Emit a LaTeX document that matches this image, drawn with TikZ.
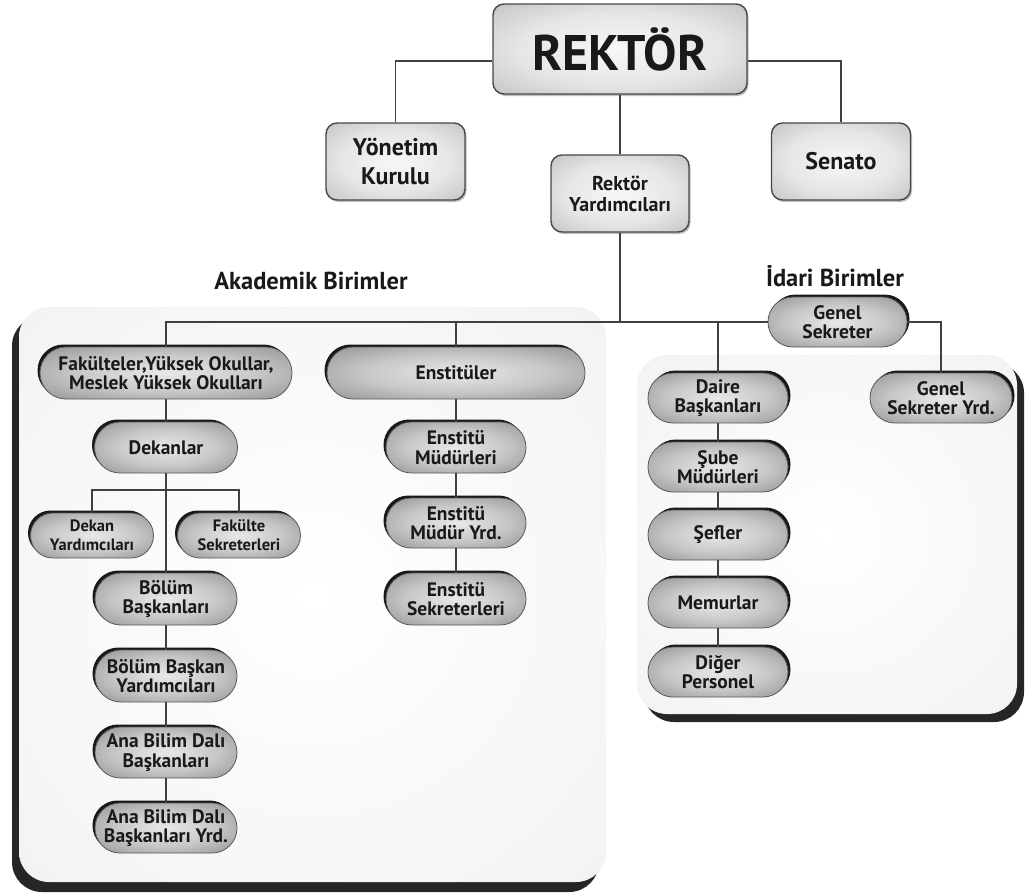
\documentclass[tikz,border=0pt]{standalone}
\usepackage{fontspec}
\setmainfont{PT Sans}
\usetikzlibrary{shapes.misc,shadows}
\pgfdeclareradialshading{pillshade}{\pgfpoint{0bp}{0bp}}{color(0bp)=(black!9); color(18bp)=(black!22); color(40bp)=(black!47); color(55bp)=(black!57); color(80bp)=(black!57)}
\pgfdeclareradialshading{boxshade}{\pgfpoint{0bp}{0bp}}{color(0bp)=(black!3); color(20bp)=(black!10); color(42bp)=(black!28); color(58bp)=(black!36); color(80bp)=(black!36)}
\pgfdeclareradialshading{panelshade}{\pgfpoint{0bp}{0bp}}{color(0bp)=(white); color(30bp)=(black!4); color(60bp)=(black!9); color(80bp)=(black!10)}
\begin{document}
\begin{tikzpicture}[x=1pt,y=-1pt,
  conn/.style={draw=black!75, line width=1.2pt},
  topbox/.style={rectangle, rounded corners=11pt, draw=black!72, line width=1.4pt, shade, shading=boxshade, text=black!90, align=center, inner sep=0pt,
     drop shadow={shadow xshift=1.5pt, shadow yshift=-2pt, opacity=0.25, fill=black}},
  pill/.style={rounded rectangle, draw=black!65, line width=0.8pt, shade, shading=pillshade, text=black!90, align=center, inner sep=0pt,
     font=\bfseries\fontsize{19.5}{19.5}\selectfont},
  smallpill/.style={pill, font=\bfseries\fontsize{16.5}{19}\selectfont},
  shl/.style={drop shadow={shadow xshift=-2.5pt, shadow yshift=2.5pt, opacity=0.9, fill=black}},
  shr/.style={drop shadow={shadow xshift=2.5pt, shadow yshift=2.5pt, opacity=0.9, fill=black}},
  lbl/.style={font=\bfseries\fontsize{24.5}{26}\selectfont, text=black!90, inner sep=0pt},
  panelshadow/.style={fill=black!85, rounded corners=30pt},
  panel/.style={shade, shading=panelshade, rounded corners=30pt}
]
\useasboundingbox[fill=white] (0,0) rectangle (1025,894);

% panels
\fill[panelshadow] (12,316) rectangle (599,892);
\path[panel] (19,307) rectangle (606,882);
\fill[panelshadow] (644,363) rectangle (1024,722);
\path[panel] (637,355) rectangle (1017,714);

% top level
\node[topbox, minimum width=254pt, minimum height=90pt, font=\bfseries\fontsize{50}{52}\selectfont] (rektor) at (620,49) {REKTÖR};
\node[topbox, minimum width=139pt, minimum height=77pt, font=\bfseries\fontsize{24}{29}\selectfont] (yonetim) at (395.5,161.5) {Yönetim\\Kurulu};
\node[topbox, minimum width=139pt, minimum height=77pt, font=\bfseries\fontsize{24}{29}\selectfont] (senato) at (841,161.5) {Senato};
\node[topbox, minimum width=138pt, minimum height=77pt, font=\bfseries\fontsize{20}{21}\selectfont] (ryrd) at (620,193.5) {Rektör\\Yardımcıları};

% labels
\node[lbl] (akad) at (311,281) {Akademik Birimler};
\node[lbl] (idari) at (835,276) {İdari Birimler};

% akademik
\node[pill, shl, minimum width=252pt, minimum height=52pt] (fak) at (166,373) {Fakülteler,Yüksek Okullar,\\Meslek Yüksek Okulları};
\node[pill, shl, minimum width=258pt, minimum height=52pt] (ens) at (456,373) {Enstitüler};
\node[pill, shl, minimum width=143pt, minimum height=51pt] (dek) at (166,447.5) {Dekanlar};
\node[smallpill, shl, minimum width=123pt, minimum height=45pt] (dekyrd) at (92,535.5) {Dekan\\Yardımcıları};
\node[smallpill, shl, minimum width=123pt, minimum height=45pt] (faksek) at (239,535.5) {Fakülte\\Sekreterleri};
\node[pill, shl, minimum width=142pt, minimum height=52pt] (bolum) at (166,599) {Bölüm\\Başkanları};
\node[pill, shl, minimum width=142pt, minimum height=52pt] (bolumyrd) at (166,676) {Bölüm Başkan\\Yardımcıları};
\node[pill, shl, minimum width=142pt, minimum height=51pt] (abd) at (166,752.5) {Ana Bilim Dalı\\Başkanları};
\node[pill, shl, minimum width=142pt, minimum height=50pt] (abdyrd) at (166,828) {Ana Bilim Dalı\\Başkanları Yrd.};
\node[pill, shl, minimum width=140pt, minimum height=51pt] (ensmud) at (456,447.5) {Enstitü\\Müdürleri};
\node[pill, shl, minimum width=140pt, minimum height=50pt] (ensmudyrd) at (456,523) {Enstitü\\Müdür Yrd.};
\node[pill, shl, minimum width=140pt, minimum height=52pt] (enssek) at (456,599) {Enstitü\\Sekreterleri};

% idari
\node[pill, shr, minimum width=139pt, minimum height=50pt] (gensek) at (837.5,322) {Genel\\Sekreter};
\node[pill, shr, minimum width=142pt, minimum height=50pt] (gensekyrd) at (941,398) {Genel\\Sekreter Yrd.};
\node[pill, shr, minimum width=140pt, minimum height=50pt] (daire) at (718,398) {Daire\\Başkanları};
\node[pill, shr, minimum width=140pt, minimum height=50pt] (sube) at (718,467) {Şube\\Müdürleri};
\node[pill, shr, minimum width=140pt, minimum height=50pt] (sefler) at (718,535) {Şefler};
\node[pill, shr, minimum width=140pt, minimum height=50pt] (memur) at (718,603) {Memurlar};
\node[pill, shr, minimum width=140pt, minimum height=50pt] (diger) at (718,672) {Diğer\\Personel};

\coordinate (br) at (166,490);

% connectors
\draw[conn] ([yshift=-12pt]rektor.west) -| (yonetim.north);
\draw[conn] ([yshift=-12pt]rektor.east) -| (senato.north);
\draw[conn] (rektor.south) -- (ryrd.north);
\draw[conn] (ryrd.south) -- (ryrd.south |- gensek.west);
\draw[conn] (fak.north) |- (gensek.west);
\draw[conn] (ens.north) -- (ens.north |- gensek.west);
\draw[conn] (daire.north) -- (daire.north |- gensek.west);
\draw[conn] (gensek.east) -| (gensekyrd.north);
\draw[conn] (fak.south) -- (dek.north);
\draw[conn] (dek.south) -- (bolum.north);
\draw[conn] (dekyrd.north) |- (br) -| (faksek.north);
\draw[conn] (bolum.south) -- (bolumyrd.north);
\draw[conn] (bolumyrd.south) -- (abd.north);
\draw[conn] (abd.south) -- (abdyrd.north);
\draw[conn] (ens.south) -- (ensmud.north);
\draw[conn] (ensmud.south) -- (ensmudyrd.north);
\draw[conn] (ensmudyrd.south) -- (enssek.north);
\draw[conn] (daire.south) -- (sube.north);
\draw[conn] (sube.south) -- (sefler.north);
\draw[conn] (sefler.south) -- (memur.north);
\draw[conn] (memur.south) -- (diger.north);
\end{tikzpicture}
\end{document}
